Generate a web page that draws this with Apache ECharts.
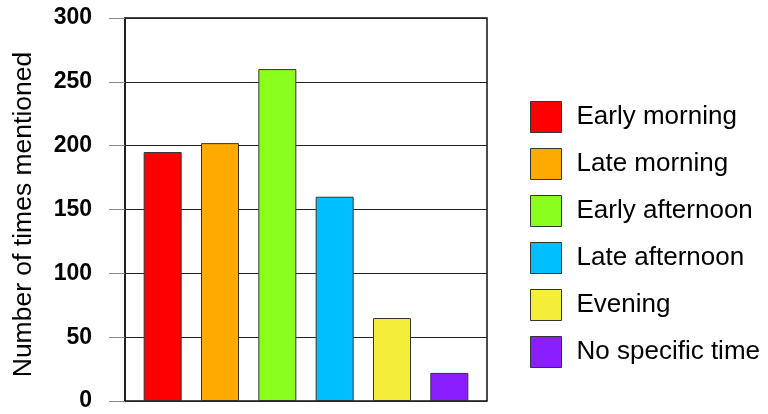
<!DOCTYPE html>
<html>
<head>
<meta charset="utf-8">
<script src="https://cdn.jsdelivr.net/npm/echarts@6/dist/echarts.min.js"></script>
<style>html,body{margin:0;padding:0;background:#fff;}#c{width:768px;height:414px;}</style>
</head>
<body>
<div id="c"></div>
<script>
const categories = ['Early morning', 'Late morning', 'Early afternoon', 'Late afternoon', 'Evening', 'No specific time'];
const values = [195, 202, 260, 160, 65, 22];
const colors = ['#FF0000', '#FFAA00', '#8AFF1E', '#00BFFF', '#F4EE3A', '#8A1EFF'];
const yTicks = [0, 50, 100, 150, 200, 250, 300];
const yName = 'Number of times mentioned';

const FONT = "'Liberation Sans', Arial, sans-serif";
const chart = echarts.init(document.getElementById('c'), null, {renderer: 'canvas'});

const series = categories.map((name, i) => ({
  name: name,
  type: 'bar',
  stack: 'all',
  xAxisIndex: 1,
  yAxisIndex: 1,
  barWidth: 38,
  data: categories.map((c, j) => (j === i ? values[i] : '-')),
  itemStyle: {color: colors[i], borderColor: '#333', borderWidth: 1},
  emphasis: {disabled: true},
  animation: false
}));

chart.setOption({
  animation: false,
  backgroundColor: '#fff',
  grid: [
    {left: 125, top: 18, width: 362, height: 383, show: true, borderColor: '#111', borderWidth: 1.5, backgroundColor: 'transparent'},
    {left: 134, top: 18, width: 344, height: 383}
  ],
  xAxis: [
    {gridIndex: 0, type: 'value', show: false, min: 0, max: 1},
    {gridIndex: 1, type: 'category', data: categories, show: false}
  ],
  yAxis: [
    {
      gridIndex: 0, type: 'value',
      min: yTicks[0], max: yTicks[yTicks.length - 1], interval: yTicks[1] - yTicks[0],
      name: yName, nameLocation: 'middle', nameRotate: 90, nameGap: 88,
      nameTextStyle: {fontFamily: FONT, fontSize: 26.5, color: '#000', padding: [0, 10, 0, 0]},
      axisLine: {show: true, lineStyle: {color: '#111', width: 1.5}},
      axisTick: {show: true, inside: false, length: 16, lineStyle: {color: '#888', width: 1}},
      axisLabel: {fontFamily: FONT, fontSize: 23, fontWeight: 'bold', color: '#000', margin: 33},
      splitLine: {show: true, lineStyle: {color: '#222', width: 1}}
    },
    {gridIndex: 1, type: 'value', min: yTicks[0], max: yTicks[yTicks.length - 1], show: false}
  ],
  legend: {
    orient: 'vertical', left: 525, top: 96,
    icon: 'rect', itemWidth: 31, itemHeight: 31, itemGap: 15,
    itemStyle: {borderColor: '#333', borderWidth: 1},
    textStyle: {fontFamily: FONT, fontSize: 26, color: '#000', padding: [0, 0, 0, 10]},
    data: categories,
    selectedMode: false
  },
  series: series
});
</script>
</body>
</html>
